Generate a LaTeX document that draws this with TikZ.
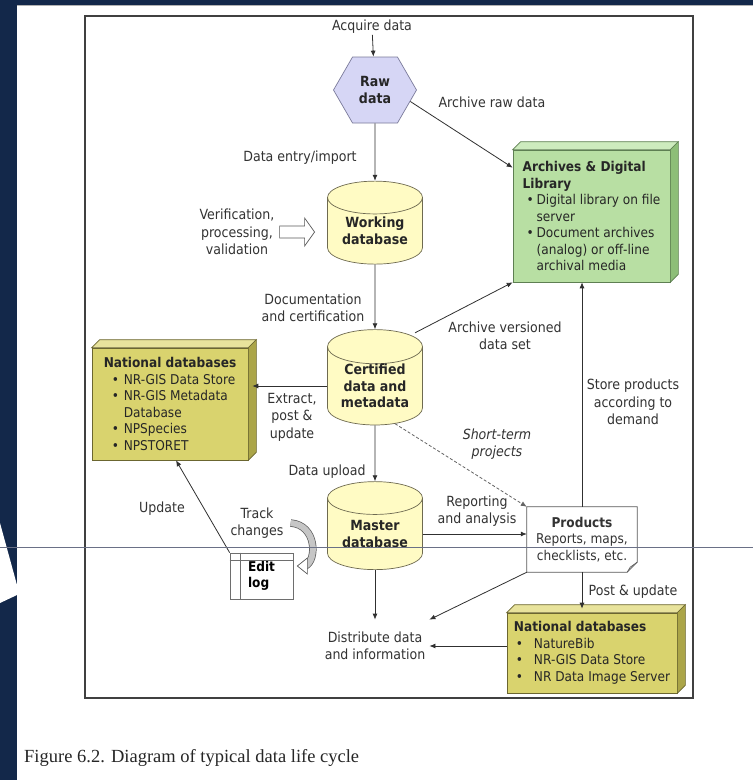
\documentclass[tikz,border=0pt]{standalone}
\usepackage{fontspec}
\setmainfont{DejaVu Sans}[FakeStretch=0.9]
\newfontfamily\capfont{Liberation Serif}
\usepackage{tikz}
\usetikzlibrary{arrows.meta,shapes.geometric,shapes.symbols}
\definecolor{navy}{HTML}{13284A}
\definecolor{slate}{HTML}{6A7086}
\definecolor{lineclr}{HTML}{303030}
\definecolor{labeltext}{HTML}{333333}
\definecolor{hexfill}{HTML}{D6D6F5}
\definecolor{hexborder}{HTML}{7A7A9A}
\definecolor{dbfill}{HTML}{FFFBC4}
\definecolor{dbborder}{HTML}{6E6A50}
\definecolor{arcfill}{HTML}{B8DFA3}
\definecolor{arctop}{HTML}{CDEBBE}
\definecolor{arcside}{HTML}{8DBE78}
\definecolor{arcborder}{HTML}{5E7F52}
\definecolor{natfill}{HTML}{D9D36E}
\definecolor{nattop}{HTML}{E8E39C}
\definecolor{natside}{HTML}{ABA548}
\definecolor{natborder}{HTML}{6B6630}
\newcommand{\boxfont}{\fontsize{13.5}{16.5}\selectfont}
\newcommand{\blt}[2]{\makebox[#1][l]{\hspace{#2}\textbullet}}
% top and side faces of a 3d box: node, top colour, side colour, border
\newcommand{\boxfaces}[4]{%
  \filldraw[fill=#2, draw=#4, line width=0.6pt] (#1.north west) -- ++(8pt,8pt) -- ([shift={(8pt,8pt)}]#1.north east) -- (#1.north east) -- cycle;
  \filldraw[fill=#3, draw=#4, line width=0.6pt] (#1.north east) -- ++(8pt,8pt) -- ([shift={(8pt,8pt)}]#1.south east) -- (#1.south east) -- cycle;}
\tikzset{
  lbl/.style={align=center, inner sep=1pt, text=labeltext},
  fwd/.style={-{Latex[length=6pt,width=5pt]}, draw=lineclr, line width=0.8pt},
  dashline/.style={fwd, dash pattern=on 3pt off 2pt, draw=lineclr!75},
  rawhex/.style={signal, signal to=east and west, signal pointer angle=120, draw=hexborder, fill=hexfill,
                 line width=0.7pt, minimum width=83pt, minimum height=66pt, inner sep=0pt, align=center,
                 font=\fontsize{14}{17}\selectfont\bfseries, text=black!85},
  dbcyl/.style={cylinder, shape border rotate=90, aspect=0.5, draw=dbborder, line width=0.7pt,
                cylinder uses custom fill, cylinder body fill=dbfill, cylinder end fill=dbfill,
                minimum width=95pt, minimum height=88pt, inner sep=0pt, align=center,
                font=\fontsize{14}{16.5}\selectfont\bfseries, text=black!85},
  greenbox/.style={rectangle, draw=arcborder, fill=arcfill, line width=0.6pt, align=left,
                   font=\boxfont, text=black!85},
  yellowbox/.style={rectangle, draw=natborder, fill=natfill, line width=0.6pt, align=left,
                    font=\boxfont, text=black!85},
  docbox/.style={rectangle, minimum width=110pt, minimum height=65pt, inner sep=0pt, align=center,
                 font=\boxfont, text=labeltext},
  docline/.style={draw=lineclr!80, line width=0.7pt},
  logbox/.style={rectangle, draw=lineclr!70, line width=0.7pt, minimum width=63pt, minimum height=46pt,
                 inner sep=0pt, align=left, font=\boxfont\bfseries, text=black},
  hollowarrow/.style={draw=lineclr!80, fill=white, line width=0.7pt},
  trackband/.style={draw=gray!45, line width=6pt, preaction={draw=gray!70!black, line width=7.4pt}},
  trackhead/.style={draw=gray!70!black, fill=white, line width=0.7pt},
  frameline/.style={draw=black!75, line width=1.3pt},
}
\begin{document}
\begin{tikzpicture}[x=1pt, y=-1pt, font=\fontsize{14}{17.5}\selectfont]
\useasboundingbox (0,0) rectangle (753,780);
%Background
\fill[white] (0,0) rectangle (753,780);
\fill[navy] (0,0) rectangle (753,4.5);
\fill[navy] (0,0) rectangle (17,780);
\fill[white] (0,523) -- (17,585) -- (17,595) -- (0,603) -- cycle;
\fill[black!30] (17,4.5) rectangle (753,6);
\draw[frameline] (85,16) rectangle (693,698);

%Nodes
\node[lbl] (acq) at (372,27) {Acquire data};
\node[rawhex] (raw) at (375,90) {Raw\\data};
\node[lbl] (entry) at (300,158) {Data entry/import};
\node[lbl] (rawarc) at (492,102) {Archive raw data};
\node[greenbox, minimum width=157pt, minimum height=132pt] (arch) at (591.5,216)
  {\textbf{Archives \& Digital}\\
   \textbf{Library}\\
   \blt{14pt}{4pt}Digital library on file\\
   \hspace*{14pt}server\\
   \blt{14pt}{4pt}Document archives\\
   \hspace*{14pt}(analog) or off-line\\
   \hspace*{14pt}archival media};
\boxfaces{arch}{arctop}{arcside}{arcborder}
\node[dbcyl, minimum height=83pt] (work) at (375,231) {Working\\database};
\node[lbl] (verif) at (237,232) {Verification,\\processing,\\validation};
\node[lbl] (docu) at (313,308) {Documentation\\and certification};
\node[dbcyl] (cert) at (375,386) {Certified\\data and\\metadata};
\node[lbl] (arcver) at (505,336) {Archive versioned\\data set};
\node[yellowbox, minimum width=156pt, minimum height=112pt] (natA) at (170,404)
  {\textbf{National databases}\\
   \blt{20pt}{8pt}NR-GIS Data Store\\
   \blt{20pt}{8pt}NR-GIS Metadata\\
   \hspace*{20pt}Database\\
   \blt{20pt}{8pt}NPSpecies\\
   \blt{20pt}{8pt}NPSTORET};
\boxfaces{natA}{nattop}{natside}{natborder}
\node[lbl] (extract) at (292,417) {Extract,\\post \&\\update};
\node[lbl] (upload) at (327,472) {Data upload};
\node[lbl, font=\fontsize{14}{17.5}\selectfont\itshape] (short) at (497,444) {Short-term\\projects};
\node[lbl] (store) at (633,402) {Store products\\according to\\demand};
\node[dbcyl] (master) at (375,534) {Master\\database};
\node[logbox] (edit) at (261.5,576) {Edit\\log};
\node[lbl] (upd) at (162,509) {Update};
\node[lbl] (track) at (257,523) {Track\\changes};
\node[docbox] (prod) at (582,539.5) {\textbf{Products}\\Reports, maps,\\checklists, etc.};
\node[lbl] (report) at (477,511) {Reporting\\and analysis};
\node[lbl] (post) at (633,592) {Post \& update};
\node[yellowbox, minimum width=170pt, minimum height=80pt] (natB) at (592,653)
  {\textbf{National databases}\\
   \blt{20pt}{2pt}NatureBib\\
   \blt{20pt}{2pt}NR-GIS Data Store\\
   \blt{20pt}{2pt}NR Data Image Server};
\boxfaces{natB}{nattop}{natside}{natborder}
\node[lbl, inner xsep=4pt, inner ysep=12pt] (distrib) at (375,646) {Distribute data\\and information};

%Shapes
\draw[docline] (prod.north west) -- (prod.north east) -- ([yshift=10pt]prod.south east)
  -- ([xshift=-10pt]prod.south east) -- (prod.south west) -- cycle;
\draw[docline] ([yshift=10pt]prod.south east) -- ([shift={(-7pt,5pt)}]prod.south east) -- ([xshift=-10pt]prod.south east);
\draw[lineclr!70, line width=0.7pt] ([yshift=-8pt]edit.north west) -- ([yshift=-8pt]edit.north east);
\draw[lineclr!70, line width=0.7pt] ([xshift=11pt]edit.north west) -- ([xshift=11pt]edit.south west);
\draw[hollowarrow] ([shift={(4pt,6pt)}]verif.east) -- ++(25pt,0pt) -- ++(0pt,8pt) -- ++(10pt,-14pt)
  -- ++(-10pt,-14pt) -- ++(0pt,8pt) -- ++(-25pt,0pt) -- cycle;
\draw[trackband] ([xshift=6pt]track.east) .. controls +(26pt,-2pt) and +(12pt,6pt) .. ([shift={(12pt,10pt)}]edit.east);
\draw[trackhead] ([shift={(4pt,10pt)}]edit.east) -- ++(10pt,8pt) -- ++(0pt,-16pt) -- cycle;

%Lines
\draw[fwd] (acq) -- (raw);
\draw[fwd] (raw) -- (work);
\draw[fwd] (raw.-18) -- ([yshift=-18pt]arch.north west);
\draw[fwd] (work) -- (cert);
\draw[fwd] (cert.west) -- ([xshift=4pt]cert.west -| natA.east);
\draw[fwd, shorten <=5pt] (cert.55) -- (arch.south west);
\draw[fwd] (cert) -- (master);
\draw[dashline] (cert.-62) -- (prod.north west);
\draw[fwd] (master.east) -- (master.east -| prod.west);
\draw[fwd] (edit.north west) -- ([xshift=6pt]natA.south);
\draw[fwd] (master) -- (distrib);
\draw[fwd] (prod.south west) -- (distrib.north east);
\draw[fwd] (prod.north) -- (prod.north |- arch.south);
\draw[fwd] (prod.south) -- ([yshift=4pt]prod.south |- natB.north);
\draw[fwd] (natB.west |- distrib.east) -- (distrib.east);

%Caption and screen line
\node[anchor=west, inner sep=0pt, font=\capfont\fontsize{18.5}{20}\selectfont, text=black!85] (cap) at (24,758)
  {Figure 6.2. Diagram of typical data life cycle};
\draw[slate, line width=0.9pt] (0,547) -- (753,547);
\end{tikzpicture}
\end{document}
